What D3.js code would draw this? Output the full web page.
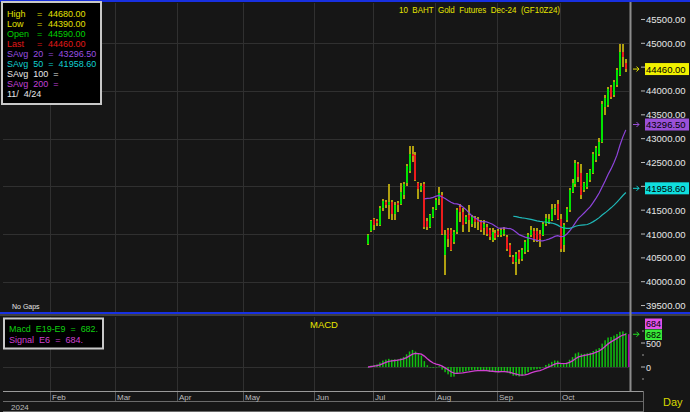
<!DOCTYPE html>
<html><head><meta charset="utf-8">
<script src="https://cdn.jsdelivr.net/npm/d3@7/dist/d3.min.js"></script>
<style>
body{margin:0;background:#161616}
svg{display:block}
text{font-family:"Liberation Sans",Arial,sans-serif;white-space:pre}
</style>
</head><body>
<svg id="c" width="690" height="412"></svg>
<script>
// ---------- DATA (daily bars, 27 Jun 2024 .. 4 Nov 2024) ----------
const openP  = [40790,41060,41320,41270,41190,41550,41680,41610,41680,41420,41650,41630,41820,42060,42330,42670,42650,42080,41930,42040,
                41270,41150,41360,41530,41740,41820,40560,41080,41080,40830,41040,41570,41460,41250,41400,41210,41340,41320,41250,41130,
                41150,41080,40870,41020,41060,40980,41000,40940,40770,40510,40410,40620,40470,40620,40660,40980,41060,41060,41000,40980,
                41210,41250,41300,41530,41630,41320,40770,41300,41510,41890,42040,42460,42270,41930,41990,42140,42270,42560,42670,42940,
                43660,43700,44080,43920,44130,44340,44820,44590];
const highP  = [41000,41300,41340,41320,41590,41740,41720,42040,41720,41680,41700,42080,42100,42460,42840,42840,42730,42100,42060,42100,
                41340,41420,41570,41760,41990,41890,41080,41130,41130,41080,41550,41630,41550,41400,41610,41400,41380,41360,41300,41300,
                41210,41130,41130,41080,41110,41130,41150,40980,40810,40560,40620,40660,40700,40870,41020,41170,41130,41130,41080,41250,
                41420,41420,41630,41630,41720,41420,41230,41570,41970,42160,42560,42520,42460,42100,42290,42370,42730,42840,43010,43790,
                43920,44080,44130,44230,44490,44990,44990,44680];
const lowP   = [40770,41040,41080,41170,41170,41490,41550,41320,41300,41300,41460,41610,41740,42010,42270,42520,42120,41740,41890,41110,
                41080,41130,41340,41510,41610,40980,40150,40720,40640,40790,41000,41250,41040,41210,41040,41150,41130,41080,41040,40980,
                40960,40870,40830,40870,40940,40940,40960,40640,40510,40370,40150,40370,40430,40580,40620,40940,40830,40830,40720,40960,
                41170,41210,41270,41400,41300,40620,40620,41250,41460,41850,41990,42100,41740,41890,41950,42100,42250,42520,42630,42900,
                43490,43660,43830,43870,44080,44320,44510,44390];
const closeP = [40980,41270,41190,41230,41550,41700,41610,41680,41420,41610,41610,41890,42040,42420,42670,42630,42140,41950,42010,41150,
                41150,41400,41530,41720,41870,41000,40980,40890,40660,41040,41510,41460,41190,41360,41300,41360,41250,41250,41080,41210,
                41000,40940,41040,40920,40980,41080,41080,40680,40560,40410,40580,40470,40660,40830,40980,41080,40890,40870,40890,41210,
                41340,41320,41530,41550,41320,40680,41190,41530,41930,42060,42480,42200,41820,42060,42250,42350,42670,42800,42940,43730,
                43850,44040,43870,44190,44440,44820,44720,44460];

const monthLabels = ["Feb","Mar","Apr","May","Jun","Jul","Aug","Sep","Oct"];
const monthIdx    = [-107,-85,-64,-42,-18,2,23,44,65];   // trading-day index of each month start
const priceTicks  = [39500,40000,40500,41000,41500,42000,42500,43000,43500,44000,44500,45000,45500];
const priceGrid   = [40000,41000,42000,43000,44000,45000];
const macdTicks   = [0,500];
const macdMinor   = [-250,250,750];

const titleText = "10  BAHT  Gold  Futures  Dec-24  (GF10Z24)";
const legendRows = [
  {k:"High",  v:"44680.00", c:"#e0e000"},
  {k:"Low",   v:"44390.00", c:"#e0e000"},
  {k:"Open",  v:"44590.00", c:"#00d000"},
  {k:"Last",  v:"44460.00", c:"#e01818"}
];
const savgRows = [
  {k:"SAvg  20  =  43296.50", c:"#9a4fe0"},
  {k:"SAvg  50  =  41958.60", c:"#10d0d0"},
  {k:"SAvg  100  =", c:"#e8e8e8"},
  {k:"SAvg  200  =", c:"#c040d8"},
  {k:"11/  4/24", c:"#e8e8e8"}
];
const lastVal = 44460, sma20Last = 43296.50, sma50Last = 41958.60;
const macdLast = 682, signalLast = 684;

// ---------- SCALES ----------
const svg = d3.select("#c");
const x = d3.scaleLinear().domain([-123.2, 88.4]).range([3, 630]);
const y = d3.scaleLinear().domain([40000, 45000]).range([281.7, 43.3]);
const ym = d3.scaleLinear().domain([0, 500]).range([367, 343]);

svg.append("rect").attr("width",690).attr("height",412).attr("fill","#161616");

// ---------- indicators ----------
function sma(n){ return closeP.map((_,i)=> i<n-1 ? null : d3.mean(closeP.slice(i-n+1,i+1))); }
function ema(arr,n){ const k=2/(n+1); let e=arr[0]; return arr.map((v,i)=> i===0 ? (e=v) : (e=v*k+e*(1-k))); }
const s20 = sma(20), s50 = sma(50);
const e9 = ema(closeP,9), e19 = ema(closeP,19);
const macd = e9.map((v,i)=>v-e19[i]);
const signal = ema(macd,6);

// ---------- grid ----------
const grid = svg.append("g").attr("stroke","#303030").attr("stroke-width",1).attr("shape-rendering","crispEdges");
monthIdx.forEach(m=>{
  const gx = Math.round(x(m))-0.5;
  grid.append("line").attr("x1",gx).attr("x2",gx).attr("y1",3).attr("y2",312);
  grid.append("line").attr("x1",gx).attr("x2",gx).attr("y1",317).attr("y2",391);
});
priceGrid.forEach(p=>{
  const gy = Math.round(y(p))+0.5;
  grid.append("line").attr("x1",3).attr("x2",629).attr("y1",gy).attr("y2",gy);
});
grid.append("line").attr("x1",3).attr("x2",629).attr("y1",Math.round(ym(0))+0.5).attr("y2",Math.round(ym(0))+0.5);

// ---------- candles ----------
const cg = svg.append("g").attr("shape-rendering","crispEdges");
closeP.forEach((c,i)=>{
  const cx = Math.round(x(i));
  cg.append("rect").attr("x",cx-1).attr("width",2)
    .attr("y",y(highP[i])).attr("height",Math.max(1,y(lowP[i])-y(highP[i])))
    .attr("fill","#b0a010");
  const top = y(Math.max(openP[i],c)), bot = y(Math.min(openP[i],c));
  cg.append("rect").attr("x",cx-1).attr("width",2)
    .attr("y",top).attr("height",Math.max(1.5,bot-top))
    .attr("fill", c>=openP[i] ? "#00e400" : "#ec1c1c");
});

// moving averages
const lineFn = arr => d3.line().defined(d=>d!=null).x((d,i)=>x(i)).y(d=>y(d))(arr);
svg.append("path").attr("d",lineFn(s20)).attr("fill","none").attr("stroke","#8e44dc").attr("stroke-width",1.2);
svg.append("path").attr("d",lineFn(s50)).attr("fill","none").attr("stroke","#1fb8b8").attr("stroke-width",1.2);

// ---------- MACD ----------
const mg = svg.append("g");
macd.forEach((v,i)=>{
  const y0 = ym(0), y1 = ym(v);
  mg.append("rect").attr("x",x(i)-0.75).attr("width",1.5)
    .attr("y",Math.min(y0,y1)).attr("height",Math.max(0.5,Math.abs(y1-y0))).attr("fill","#10c010");
});
svg.append("path").attr("d",d3.line().x((d,i)=>x(i)).y(d=>ym(d))(signal))
   .attr("fill","none").attr("stroke","#d040d0").attr("stroke-width",1.3);
svg.append("rect").attr("x",628).attr("width",1.6).attr("y",ym(signalLast)).attr("height",ym(0)-ym(signalLast)).attr("fill","#b000b0");

// ---------- frame lines ----------
svg.append("rect").attr("x",0).attr("y",0).attr("width",690).attr("height",2).attr("fill","#1830e0");
svg.append("rect").attr("x",0).attr("y",312).attr("width",690).attr("height",2).attr("fill","#1830e0");
svg.append("rect").attr("x",0).attr("y",314.5).attr("width",690).attr("height",1).attr("fill","#6a6a6a");
svg.append("rect").attr("x",629.5).attr("y",2).attr("width",2).attr("height",389).attr("fill","#8c8c8c");
svg.append("rect").attr("x",3).attr("y",391).attr("width",640).attr("height",1).attr("fill","#9a9a9a");
svg.append("rect").attr("x",3).attr("y",401).attr("width",640).attr("height",1).attr("fill","#6a6a6a");
svg.append("rect").attr("x",3).attr("y",411).attr("width",640).attr("height",1).attr("fill","#6a6a6a");
svg.append("rect").attr("x",643).attr("y",391).attr("width",1).attr("height",21).attr("fill","#6a6a6a");

// ---------- price axis ----------
const ax = svg.append("g");
const boxVals = [lastVal, sma20Last, sma50Last];
priceTicks.forEach(p=>{
  const py = y(p);
  ax.append("line").attr("x1",641).attr("x2",645).attr("y1",py).attr("y2",py).attr("stroke","#bbbbbb");
  // labels hidden behind a value box are not drawn (as in the reference)
  if (boxVals.some(v=>Math.abs(y(v)-py) < 8)) return;
  ax.append("text").attr("x",646).attr("y",py+3.5).attr("fill","#e6e6e6").attr("font-size","9.5px").text(d3.format(".2f")(p));
});
function valueBox(v, bg, col){
  const py = y(v);
  ax.append("rect").attr("x",645).attr("y",py-6).attr("width",44).attr("height",12).attr("fill",bg);
  ax.append("text").attr("x",646).attr("y",py+3.5).attr("fill","#000").attr("font-size","9.5px").text(d3.format(".2f")(v));
  ax.append("path").attr("d",`M633,${py}h6m-2.5,-2.5l2.5,2.5l-2.5,2.5`).attr("stroke",col).attr("fill","none").attr("stroke-width",1);
}
valueBox(lastVal,"#f0f000","#e0e000");
valueBox(sma20Last,"#9a50d8","#9a50d8");
valueBox(sma50Last,"#10dede","#10d0d0");

// MACD axis
macdTicks.forEach(t=>{
  ax.append("line").attr("x1",641).attr("x2",645).attr("y1",ym(t)).attr("y2",ym(t)).attr("stroke","#bbbbbb");
});
macdMinor.forEach(t=>{
  ax.append("line").attr("x1",642).attr("x2",644).attr("y1",ym(t)).attr("y2",ym(t)).attr("stroke","#999999");
});
ax.append("text").attr("x",646).attr("y",ym(500)+4).attr("fill","#e6e6e6").attr("font-size","9px").text("500");
ax.append("text").attr("x",646).attr("y",ym(0)+3.5).attr("fill","#e6e6e6").attr("font-size","9px").text("0");
ax.append("rect").attr("x",645).attr("y",318.5).attr("width",17).attr("height",10.5).attr("fill","#e050e8");
ax.append("text").attr("x",646).attr("y",326.5).attr("fill","#000").attr("font-size","9px").text(String(signalLast));
ax.append("rect").attr("x",645).attr("y",329.5).attr("width",17).attr("height",10.5).attr("fill","#38e838");
ax.append("text").attr("x",646).attr("y",338).attr("fill","#000").attr("font-size","9px").text(String(macdLast));
ax.append("path").attr("d",`M633,${ym(macdLast)}h6m-2.5,-2.5l2.5,2.5l-2.5,2.5`).attr("stroke","#20e020").attr("fill","none");

// ---------- date axis ----------
monthLabels.forEach((m,k)=>{
  const gx = Math.round(x(monthIdx[k]))-0.5;
  svg.append("line").attr("x1",gx).attr("x2",gx).attr("y1",392).attr("y2",401).attr("stroke","#555").attr("shape-rendering","crispEdges");
  svg.append("text").attr("x",gx+1.5).attr("y",399.5).attr("fill","#bdbdbd").attr("font-size","8px").text(m);
});
svg.append("text").attr("x",11).attr("y",409.5).attr("fill","#bdbdbd").attr("font-size","8px").text("2024");
svg.append("text").attr("x",663).attr("y",405.5).attr("fill","#d8d800").attr("font-size","11px").text("Day");

// ---------- titles ----------
svg.append("text").attr("x",399).attr("y",13).attr("fill","#e6e600").attr("font-size","9.5px")
   .attr("textLength",161).attr("lengthAdjust","spacingAndGlyphs").text(titleText);
svg.append("text").attr("x",310).attr("y",328).attr("fill","#e6e600").attr("font-size","9.5px").text("MACD");
svg.append("text").attr("x",12).attr("y",309).attr("fill","#e6e6e6").attr("font-size","7px").text("No Gaps");

// ---------- legend box ----------
svg.append("rect").attr("x",2).attr("y",2).attr("width",99).attr("height",102).attr("fill","#000").attr("stroke","#c8c8c8").attr("stroke-width",2);
legendRows.forEach((r,k)=>{
  const by = 16.5 + k*10;
  svg.append("text").attr("x",7).attr("y",by).attr("fill",r.c).attr("font-size","9px").text(r.k);
  svg.append("text").attr("x",37).attr("y",by).attr("fill",r.c).attr("font-size","9px").text("=");
  svg.append("text").attr("x",48).attr("y",by).attr("fill",r.c).attr("font-size","9px").text(r.v);
});
savgRows.forEach((r,k)=>{
  const by = 56.5 + k*10;
  svg.append("text").attr("x",7).attr("y",by).attr("fill",r.c).attr("font-size","9px").text(r.k);
});

// MACD legend box
svg.append("rect").attr("x",4).attr("y",318.5).attr("width",99).attr("height",30).attr("fill","#000").attr("stroke","#c8c8c8").attr("stroke-width",2);
svg.append("text").attr("x",9).attr("y",332).attr("fill","#10d010").attr("font-size","9.5px")
   .attr("textLength",89).attr("lengthAdjust","spacingAndGlyphs").text("Macd  E19-E9  =  " + macdLast + ".");
svg.append("text").attr("x",9).attr("y",343).attr("fill","#d040d0").attr("font-size","9.5px")
   .attr("textLength",74).attr("lengthAdjust","spacingAndGlyphs").text("Signal  E6  =  " + signalLast + ".");
</script>
</body></html>
